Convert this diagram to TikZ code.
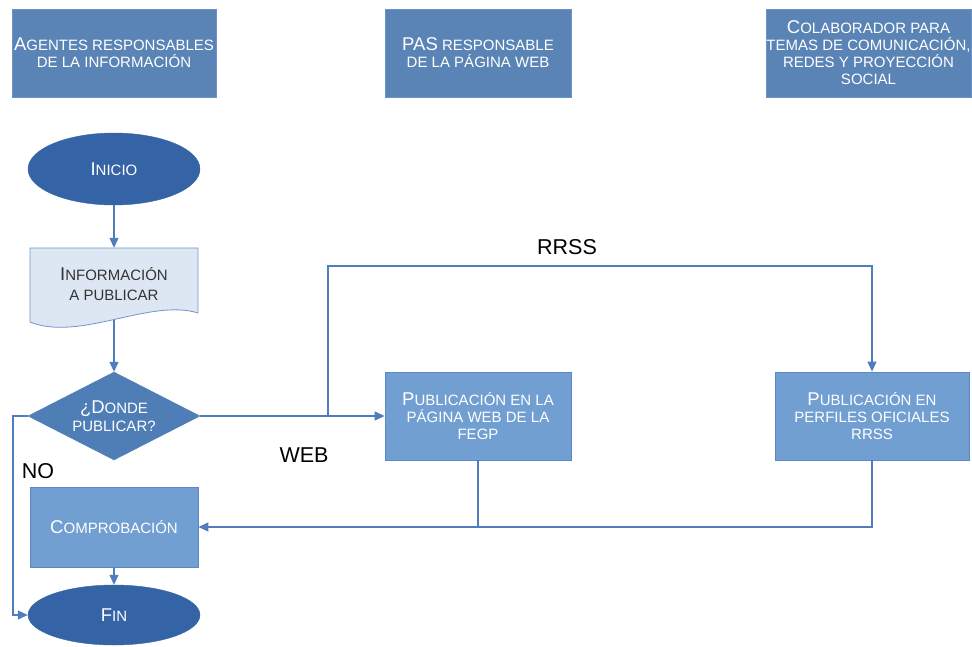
\documentclass[tikz,border=0pt]{standalone}
\usepackage{fontspec}
\setmainfont{Liberation Sans}
\usetikzlibrary{shapes.geometric,arrows.meta}
\definecolor{hdrfill}{HTML}{5A84B6}
\definecolor{hdrline}{HTML}{6A93C8}
\definecolor{termfill}{HTML}{3464A5}
\definecolor{diafill}{HTML}{4F7DB5}
\definecolor{procfill}{HTML}{729FD2}
\definecolor{procline}{HTML}{5B87C2}
\definecolor{docfill}{HTML}{DDE7F3}
\definecolor{docline}{HTML}{7196C8}
\definecolor{conn}{HTML}{4F7DBE}
\newcommand\Bg[1]{{\fontsize{18.5}{17}\selectfont #1}}
\begin{document}
\begin{tikzpicture}[x=1pt,y=-1pt,
  base/.style={font=\fontsize{15}{17}\selectfont, align=center, inner sep=0pt},
  hdr/.style={base, rectangle, fill=hdrfill, draw=hdrline, line width=0.8pt, text=white, minimum height=88pt},
  term/.style={base, ellipse, fill=termfill, draw=termfill, text=white, minimum width=172pt},
  proc/.style={base, rectangle, fill=procfill, draw=procline, line width=0.8pt, text=white},
  decis/.style={base, diamond, aspect=2, fill=diafill, draw=diafill, text=white, minimum width=172pt, minimum height=88pt, font=\fontsize{15}{18}\selectfont},
  lbl/.style={font=\fontsize{21.5}{24}\selectfont, text=black, inner sep=0pt},
  con/.style={draw=conn, line width=1.1pt},
  arr/.style={con, -{Triangle[length=10pt,width=9pt]}, shorten >=0pt}
]
\useasboundingbox (0,0) rectangle (972,646);

% headers
\node[hdr, minimum width=204pt] (h1) at (114,53) {\Bg{A}GENTES RESPONSABLES\\DE LA INFORMACIÓN};
\node[hdr, minimum width=186pt] (h2) at (478,53) {\Bg{PAS} RESPONSABLE\\DE LA PÁGINA WEB};
\node[hdr, minimum width=205pt] (h3) at (868.5,53) {\Bg{C}OLABORADOR PARA\\TEMAS DE COMUNICACIÓN,\\REDES Y PROYECCIÓN\\SOCIAL};

% flow
\node[term, minimum height=72pt] (ini) at (114,169) {\Bg{I}NICIO};

\draw[fill=docfill, draw=docline, line width=0.8pt] (30,248) -- (198,248) -- (198,313)
  .. controls (150,298) and (80,342) .. (30,322) -- cycle;
\node[base, text=black!80, minimum width=168pt, minimum height=72pt, font=\fontsize{15}{20}\selectfont] (doc) at (114,284) {\Bg{I}NFORMACIÓN\\A PUBLICAR};

\node[decis] (dia) at (114,416) {\Bg{¿D}ONDE\\PUBLICAR?};

\node[proc, minimum width=186pt, minimum height=88pt] (web) at (478,416) {\Bg{P}UBLICACIÓN EN LA\\PÁGINA WEB DE LA\\FEGP};
\node[proc, minimum width=194pt, minimum height=88pt] (rrss) at (872,416) {\Bg{P}UBLICACIÓN EN\\PERFILES OFICIALES\\RRSS};

\node[proc, minimum width=168pt, minimum height=80pt] (comp) at (114,527) {\Bg{C}OMPROBACIÓN};

\node[term, minimum height=60pt] (fin) at (114,615) {\Bg{F}IN};

% labels
\node[lbl] (lrrss) at (567,247) {RRSS};
\node[lbl] (lweb) at (304,455) {WEB};
\node[lbl] (lno) at (38,471) {NO};

% connectors
\coordinate (br) at (328,416);
\coordinate (rtop) at (872,266);
\coordinate (nol) at (13,416);

\draw[arr] (ini.south) -- (doc.north);
\draw[arr] (doc.south) -- (dia.north);
\draw[arr] (dia.east) -- (web.west);
\draw[arr] (br) |- (rtop) -- (rrss.north);
\draw[arr] (web.south) |- (comp.east);
\draw[con] (rrss.south) |- (web.south |- comp.east);
\draw[arr] (comp.south) -- (fin.north);
\draw[arr] (dia.west) -- (nol) |- (fin.west);
\end{tikzpicture}
\end{document}
